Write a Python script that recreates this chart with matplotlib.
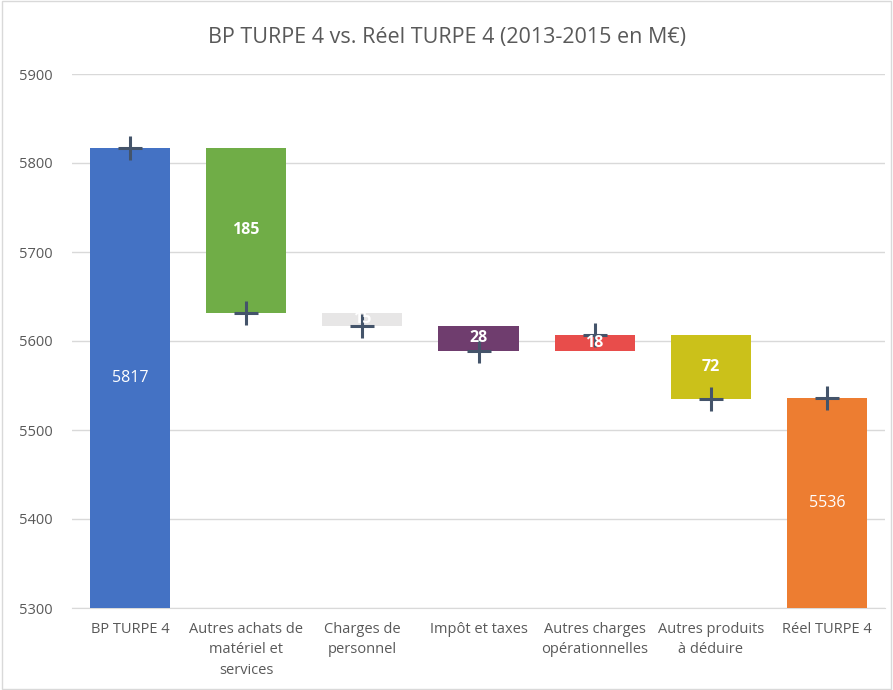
import matplotlib
matplotlib.use("Agg")
import matplotlib.pyplot as plt
from matplotlib.patches import Rectangle

categories = ["BP TURPE 4", "Autres achats de\nmatériel et\nservices", "Charges de\npersonnel",
              "Impôt et taxes", "Autres charges\nopérationnelles", "Autres produits\nà déduire", "Réel TURPE 4"]
values = [5817, -185, -15, -28, 18, -72, 5536]
is_total = [True, False, False, False, False, False, True]
colors = ["#4472C4", "#70AD47", "#E7E6E6", "#6F3D6E", "#E84D4B", "#CBC11A", "#ED7D31"]
yticks = [5300, 5400, 5500, 5600, 5700, 5800, 5900]

plt.rcParams['font.family'] = ['Open Sans', 'DejaVu Sans']

fig = plt.figure(figsize=(8.93, 6.9), dpi=100)
ax = fig.add_axes([72/893, 1-608/690, (885-72)/893, (608-74)/690])

level = 0
bottoms, heights, ends = [], [], []
for v, tot in zip(values, is_total):
    if tot:
        b, h = 5300, v - 5300
        level = v
        end = v
    else:
        new = level + v
        b, h = min(level, new), abs(v)
        level = new
        end = new
    bottoms.append(b); heights.append(h); ends.append(end)

x = list(range(len(categories)))
ax.bar(x, heights, bottom=bottoms, width=0.69, color=colors, zorder=3)
ax.plot(x, ends, linestyle='none', marker='+', markersize=17, mew=2.2, color="#44546A", zorder=4)

for i, (v, tot, b, h) in enumerate(zip(values, is_total, bottoms, heights)):
    lab = str(abs(v))
    if tot:
        ax.text(i, b + h / 2, lab, ha='center', va='center', color='white', fontsize=11.5, zorder=5)
    else:
        ax.text(i, b + h / 2, lab, ha='center', va='center', color='white',
                fontsize=11.5, fontweight='bold', zorder=5)

ax.set_xlim(-0.5, len(categories) - 0.5)
ax.set_ylim(5300, 5900)
ax.set_yticks(yticks)
ax.yaxis.grid(True, color="#D9D9D9", linewidth=1, zorder=0)
ax.set_axisbelow(True)
for s in ['top', 'right', 'left']:
    ax.spines[s].set_visible(False)
ax.spines['bottom'].set_color("#D9D9D9")
ax.tick_params(axis='both', length=0, colors="#595959", labelsize=10.5)
ax.tick_params(axis='y', pad=14)
ax.set_xticks(x)
ax.set_xticklabels(categories, linespacing=1.5)
ax.tick_params(axis='x', pad=10)

fig.text(0.5, 1 - 38/690, "BP TURPE 4 vs. Réel TURPE 4 (2013-2015 en M€)", ha='center', va='center',
         fontsize=15.5, color="#595959")

fig.patches.append(Rectangle((0.002, 0.002), 0.996, 0.996, transform=fig.transFigure,
                             fill=False, edgecolor="#D9D9D9", linewidth=1))

fig.savefig("out.png", dpi=100)
